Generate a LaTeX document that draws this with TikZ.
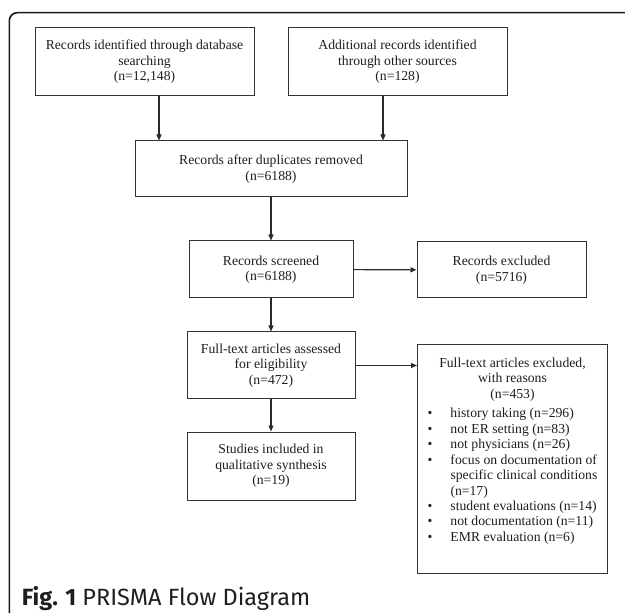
\documentclass[tikz,border=0pt]{standalone}
\usepackage{fontspec}
\setmainfont{Liberation Serif}
\newfontfamily\capfont{Fira Sans}
\usetikzlibrary{arrows.meta,calc}
\definecolor{boxc}{HTML}{333333}
\definecolor{txtc}{HTML}{1E1E1E}
\definecolor{arrc}{HTML}{2A2A2A}
\definecolor{framec}{HTML}{1A1A1A}
\begin{document}
\begin{tikzpicture}[x=1pt,y=-1pt,
  box/.style={draw=boxc, line width=1pt, inner sep=0pt, text=txtc, align=center,
    font=\fontsize{13.7}{15.5}\selectfont},
  arr/.style={draw=arrc, line width=1.1pt, -{Triangle[length=6pt,width=5pt]}}]
\useasboundingbox (0,0) rectangle (625,615);
% outer frame (top and left sides only)
\draw[framec, line width=1.6pt, rounded corners=8pt] (9.3,613) -- (9.3,12.7) -- (625,12.7);
% boxes
\node[box, minimum width=219pt, minimum height=68pt] (b1) at (144.5,62)
  {Records identified through database\\ searching\\ (n=12,148)};
\node[box, minimum width=219pt, minimum height=68pt] (b2) at (397.5,62)
  {Additional records identified\\ through other sources\\ (n=128)};
\node[box, minimum width=272pt, minimum height=56pt] (b3) at (271,169)
  {Records after duplicates removed\\ (n=6188)};
\node[box, minimum width=164pt, minimum height=57pt] (scr) at (271,269.5)
  {Records screened\\ (n=6188)};
\node[box, minimum width=169pt, minimum height=56pt] (rex) at (501.5,270)
  {Records excluded\\ (n=5716)};
\node[box, minimum width=168pt, minimum height=67pt] (fa) at (271,365.5)
  {Full-text articles assessed\\ for eligibility\\ (n=472)};
\node[box, minimum width=168pt, minimum height=68pt] (st) at (271,466)
  {Studies included in\\ qualitative synthesis\\ (n=19)};
\node[box, anchor=north west] (ex) at (417,344)
  {\parbox[c][229pt][t]{190pt}{\centering\rule{0pt}{22.5pt}Full-text articles excluded,\\ with reasons\\ (n=453)\par
   \vspace{4pt}\raggedright
   \makebox[33pt][l]{\hspace{10pt}\textbullet}history taking (n=296)\\
   \makebox[33pt][l]{\hspace{10pt}\textbullet}not ER setting (n=83)\\
   \makebox[33pt][l]{\hspace{10pt}\textbullet}not physicians (n=26)\\
   \makebox[33pt][l]{\hspace{10pt}\textbullet}focus on documentation of\\
   \hspace*{33pt}specific clinical conditions\\
   \hspace*{33pt}(n=17)\\
   \makebox[33pt][l]{\hspace{10pt}\textbullet}student evaluations (n=14)\\
   \makebox[33pt][l]{\hspace{10pt}\textbullet}not documentation (n=11)\\
   \makebox[33pt][l]{\hspace{10pt}\textbullet}EMR evaluation (n=6)\par}};
% connectors
\coordinate (c1) at (159,0);
\coordinate (c2) at (383,0);
\draw[arr] (b1.south -| c1) -- (b3.north -| c1);
\draw[arr] (b2.south -| c2) -- (b3.north -| c2);
\draw[arr] (b3) -- (scr);
\draw[arr] (scr) -- (rex);
\draw[arr] (scr) -- (fa);
\draw[arr] (fa.east) -- (fa.east -| ex.west);
\draw[arr] (fa) -- (st);
% caption
\node[anchor=base west, inner sep=0pt, text=txtc, font=\capfont\fontsize{23.5}{28}\selectfont] (cap) at (21.7,605)
  {\textbf{Fig. 1} PRISMA Flow Diagram};
\end{tikzpicture}
\end{document}
